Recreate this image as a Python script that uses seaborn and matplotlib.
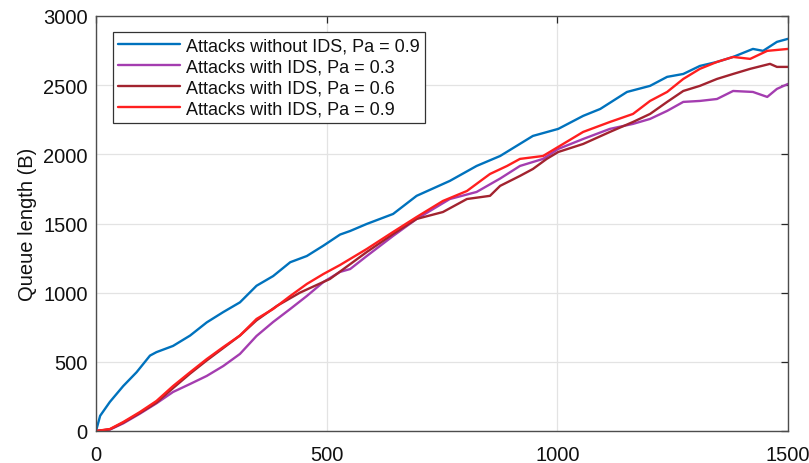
import matplotlib
matplotlib.use("Agg")
import matplotlib.pyplot as plt
import seaborn as sns
import numpy as np

# ---- data ----
blue_x = [0, 9, 30, 59, 88, 117, 131, 167, 204, 240, 276, 312, 348, 384, 421, 457, 493, 529, 551, 587, 644, 695, 767, 825, 876, 947, 1002, 1056, 1093, 1151, 1201, 1238, 1273, 1309, 1346, 1381, 1424, 1446, 1476, 1500]
blue_y = [0, 110, 210, 325, 425, 545, 570, 615, 690, 785, 860, 930, 1050, 1120, 1220, 1265, 1340, 1420, 1446, 1497, 1569, 1700, 1808, 1916, 1988, 2133, 2184, 2278, 2328, 2451, 2495, 2560, 2581, 2639, 2668, 2704, 2762, 2748, 2813, 2835]

purple_x = [0, 30, 59, 95, 131, 167, 204, 240, 276, 312, 348, 384, 421, 457, 493, 529, 551, 587, 644, 695, 767, 825, 876, 919, 969, 1002, 1056, 1114, 1164, 1201, 1238, 1273, 1309, 1346, 1381, 1424, 1455, 1476, 1500]
purple_y = [0, 10, 55, 125, 200, 282, 340, 398, 470, 557, 687, 788, 882, 976, 1077, 1150, 1171, 1265, 1410, 1533, 1677, 1728, 1825, 1916, 1967, 2039, 2111, 2184, 2220, 2256, 2314, 2379, 2386, 2400, 2458, 2451, 2415, 2473, 2509]

darkred_x = [0, 30, 59, 95, 131, 167, 204, 240, 276, 312, 348, 392, 442, 507, 587, 644, 695, 752, 804, 854, 876, 919, 947, 977, 1002, 1056, 1114, 1164, 1201, 1238, 1273, 1309, 1346, 1381, 1418, 1461, 1476, 1500]
darkred_y = [0, 12, 60, 130, 205, 310, 415, 510, 600, 690, 800, 904, 1000, 1099, 1294, 1424, 1533, 1583, 1677, 1700, 1772, 1844, 1894, 1967, 2017, 2075, 2162, 2234, 2292, 2379, 2458, 2495, 2545, 2581, 2618, 2654, 2632, 2632]

red_x = [0, 30, 59, 95, 131, 167, 204, 240, 276, 312, 348, 384, 421, 457, 493, 529, 551, 587, 644, 695, 752, 804, 854, 891, 919, 969, 1002, 1056, 1114, 1164, 1201, 1238, 1273, 1309, 1346, 1381, 1418, 1455, 1500]
red_y = [0, 14, 65, 137, 217, 325, 425, 520, 607, 690, 810, 882, 976, 1063, 1135, 1200, 1244, 1316, 1439, 1547, 1663, 1735, 1858, 1916, 1967, 1988, 2054, 2162, 2234, 2292, 2386, 2451, 2545, 2618, 2668, 2704, 2690, 2748, 2762]

labels = ["Attacks without IDS, Pa = 0.9",
          "Attacks with IDS, Pa = 0.3",
          "Attacks with IDS, Pa = 0.6",
          "Attacks with IDS, Pa = 0.9"]
colors = ["#0072BD", "#A43DB0", "#A2232F", "#FF1F1F"]

xticks = [0, 500, 1000, 1500]
yticks = [0, 500, 1000, 1500, 2000, 2500, 3000]

sns.set_theme(style="whitegrid")
plt.rcParams["font.family"] = ["Liberation Sans", "DejaVu Sans"]

fig = plt.figure(figsize=(8.09, 4.64), dpi=100)
ax = fig.add_axes([96/809, 1-432/464, (788-96)/809, (432-17)/464])

series = [(blue_x, blue_y), (purple_x, purple_y), (darkred_x, darkred_y), (red_x, red_y)]
for (xs, ys), lab, c in zip(series, labels, colors):
    sns.lineplot(x=np.array(xs), y=np.array(ys), ax=ax, color=c, lw=1.7,
                 label=lab, sort=False, estimator=None)

ax.set_xlim(0, 1500)
ax.set_ylim(0, 3000)
ax.set_xticks(xticks)
ax.set_yticks(yticks)
ax.set_xlabel("")
ax.set_ylabel("Queue length (B)", fontsize=14.5, color="#111111", labelpad=4)
ax.grid(True, color="#e3e3e3", lw=0.9)
ax.tick_params(axis="both", which="both", direction="in", top=True, right=True,
               length=5, width=0.9, color="#262626", labelsize=14.5,
               labelcolor="#111111")
ax.tick_params(axis="x", pad=10)
ax.tick_params(axis="y", pad=6)
for s in ax.spines.values():
    s.set_visible(True)
    s.set_color("#4d4d4d")
    s.set_linewidth(1.0)
ax.set_facecolor("white")

leg = ax.legend(loc="upper left", bbox_to_anchor=(17/692, 1-16/415), borderaxespad=0,
                fontsize=13, frameon=True, fancybox=False, edgecolor="#333333",
                framealpha=1, handlelength=3.4, handletextpad=0.35,
                labelspacing=0.22, borderpad=0.3)
leg.get_frame().set_linewidth(0.9)
for t in leg.get_texts():
    t.set_color("#111111")

fig.savefig("out.png", dpi=100)
